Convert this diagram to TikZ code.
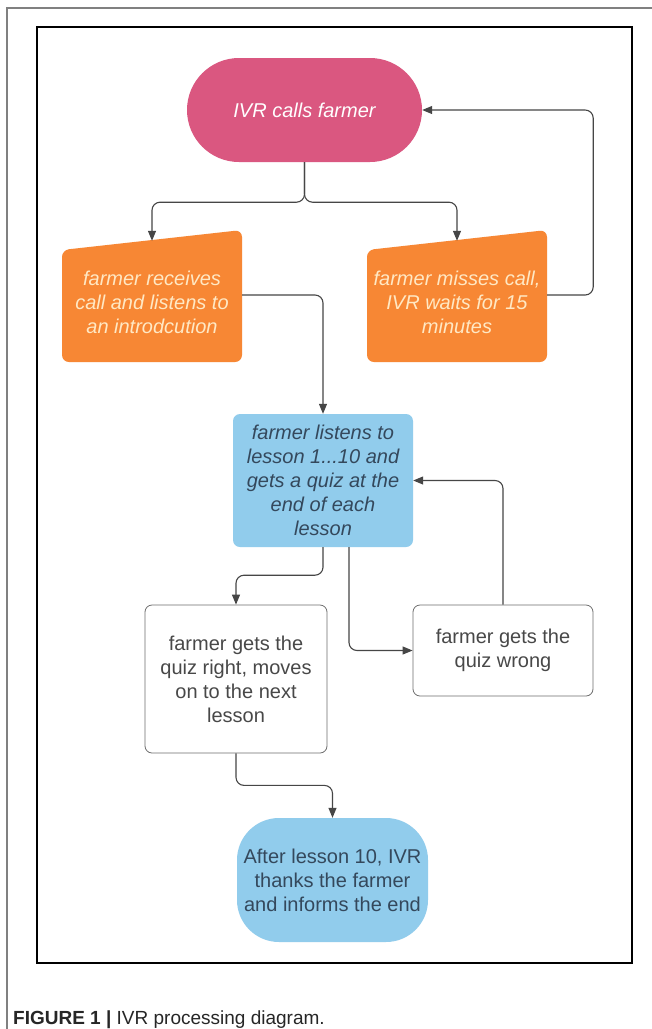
\documentclass[tikz,border=0pt]{standalone}
\usepackage{fontspec}
\setmainfont{Liberation Sans}
\usetikzlibrary{arrows.meta}
\definecolor{callpink}{RGB}{218,87,128}
\definecolor{steporange}{RGB}{247,135,52}
\definecolor{orangetext}{RGB}{255,232,196}
\definecolor{lessonblue}{RGB}{145,204,236}
\definecolor{bluetext}{RGB}{52,72,92}
\definecolor{boxgray}{RGB}{110,110,110}
\definecolor{quiztext}{RGB}{72,72,72}
\definecolor{linegray}{RGB}{70,70,70}
\tikzset{
  diagtext/.style={font=\fontsize{20}{24}\selectfont, align=center, inner sep=0pt},
  quizbox/.style={diagtext, draw=boxgray, line width=0.8pt, text=quiztext, rounded corners=7pt},
  flow/.style={draw=linegray, line width=1.1pt, rounded corners=8pt, -{Triangle[length=10pt,width=8pt]}},
}

\begin{document}
\begin{tikzpicture}[x=1pt,y=-1pt]
    \useasboundingbox (0,0) rectangle (652,1029);
    \fill[white] (0,0) rectangle (652,1029);
    \draw [gray, line width=1.2pt] (7,1029) -- (7,8) -- (652,8);% page frame
    \draw [black, line width=2.2pt] (37,27) rectangle (632,963);% figure frame
    % orange step shapes with slanted tops
    \fill [steporange, rounded corners=7pt] (62,250) -- (242,230) -- (242,362) -- (62,362) -- cycle;
    \fill [steporange, rounded corners=7pt] (367,250) -- (547,230) -- (547,362) -- (367,362) -- cycle;
    \node [diagtext, fill=callpink, text=white, minimum width=235pt, minimum height=104pt, rounded corners=52pt] (call) at (304.5,110) {\itshape IVR calls farmer};
    \node [diagtext, text=orangetext, minimum width=180pt, minimum height=122pt] (rcv) at (152,302) {\itshape farmer receives\\ \itshape call and listens to\\ \itshape an introdcution};
    \node [diagtext, text=orangetext, minimum width=180pt, minimum height=122pt] (miss) at (457,302) {\itshape farmer misses call,\\ \itshape IVR waits for 15\\ \itshape minutes};
    \node [diagtext, fill=lessonblue, text=bluetext, rounded corners=7pt, minimum width=180pt, minimum height=133pt] (lesson) at (323,480.5) {\itshape farmer listens to\\ \itshape lesson 1...10 and\\ \itshape gets a quiz at the\\ \itshape end of each\\ \itshape lesson};
    \node [quizbox, minimum width=182pt, minimum height=148pt] (right) at (236,679) {farmer gets the\\quiz right, moves\\on to the next\\lesson};
    \node [quizbox, minimum width=180pt, minimum height=91pt] (wrong) at (503,650.5) {farmer gets the\\quiz wrong};
    \node [diagtext, fill=lessonblue, text=bluetext, rounded corners=42pt, minimum width=191pt, minimum height=124pt] (fin) at (332.5,880) {After lesson 10, IVR\\thanks the farmer\\and informs the end};
    % connectors
    \draw [flow] (call.south) -- ++(0,40) -| (rcv.north);
    \draw [flow] (call.south) -- ++(0,40) -| (miss.north);
    \draw [flow] ([yshift=7pt]miss.east) -- ++(46,0) |- (call.east);
    \draw [flow] ([yshift=7pt]rcv.east) -| (lesson.north);
    \draw [flow] (wrong.north) |- (lesson.east);
    \draw [flow] (lesson.south) -- ++(0,28) -| (right.north);
    \draw [flow] ([xshift=26pt]lesson.south) |- (wrong.west);
    \draw [flow] (right.south) -- ++(0,32) -| (fin.north);
    \node [anchor=base west, inner sep=0pt, font=\fontsize{19}{22}\selectfont, text=black!85] (caption) at (13,1024) {\textbf{FIGURE 1 |} IVR processing diagram.};
\end{tikzpicture}
\end{document}
